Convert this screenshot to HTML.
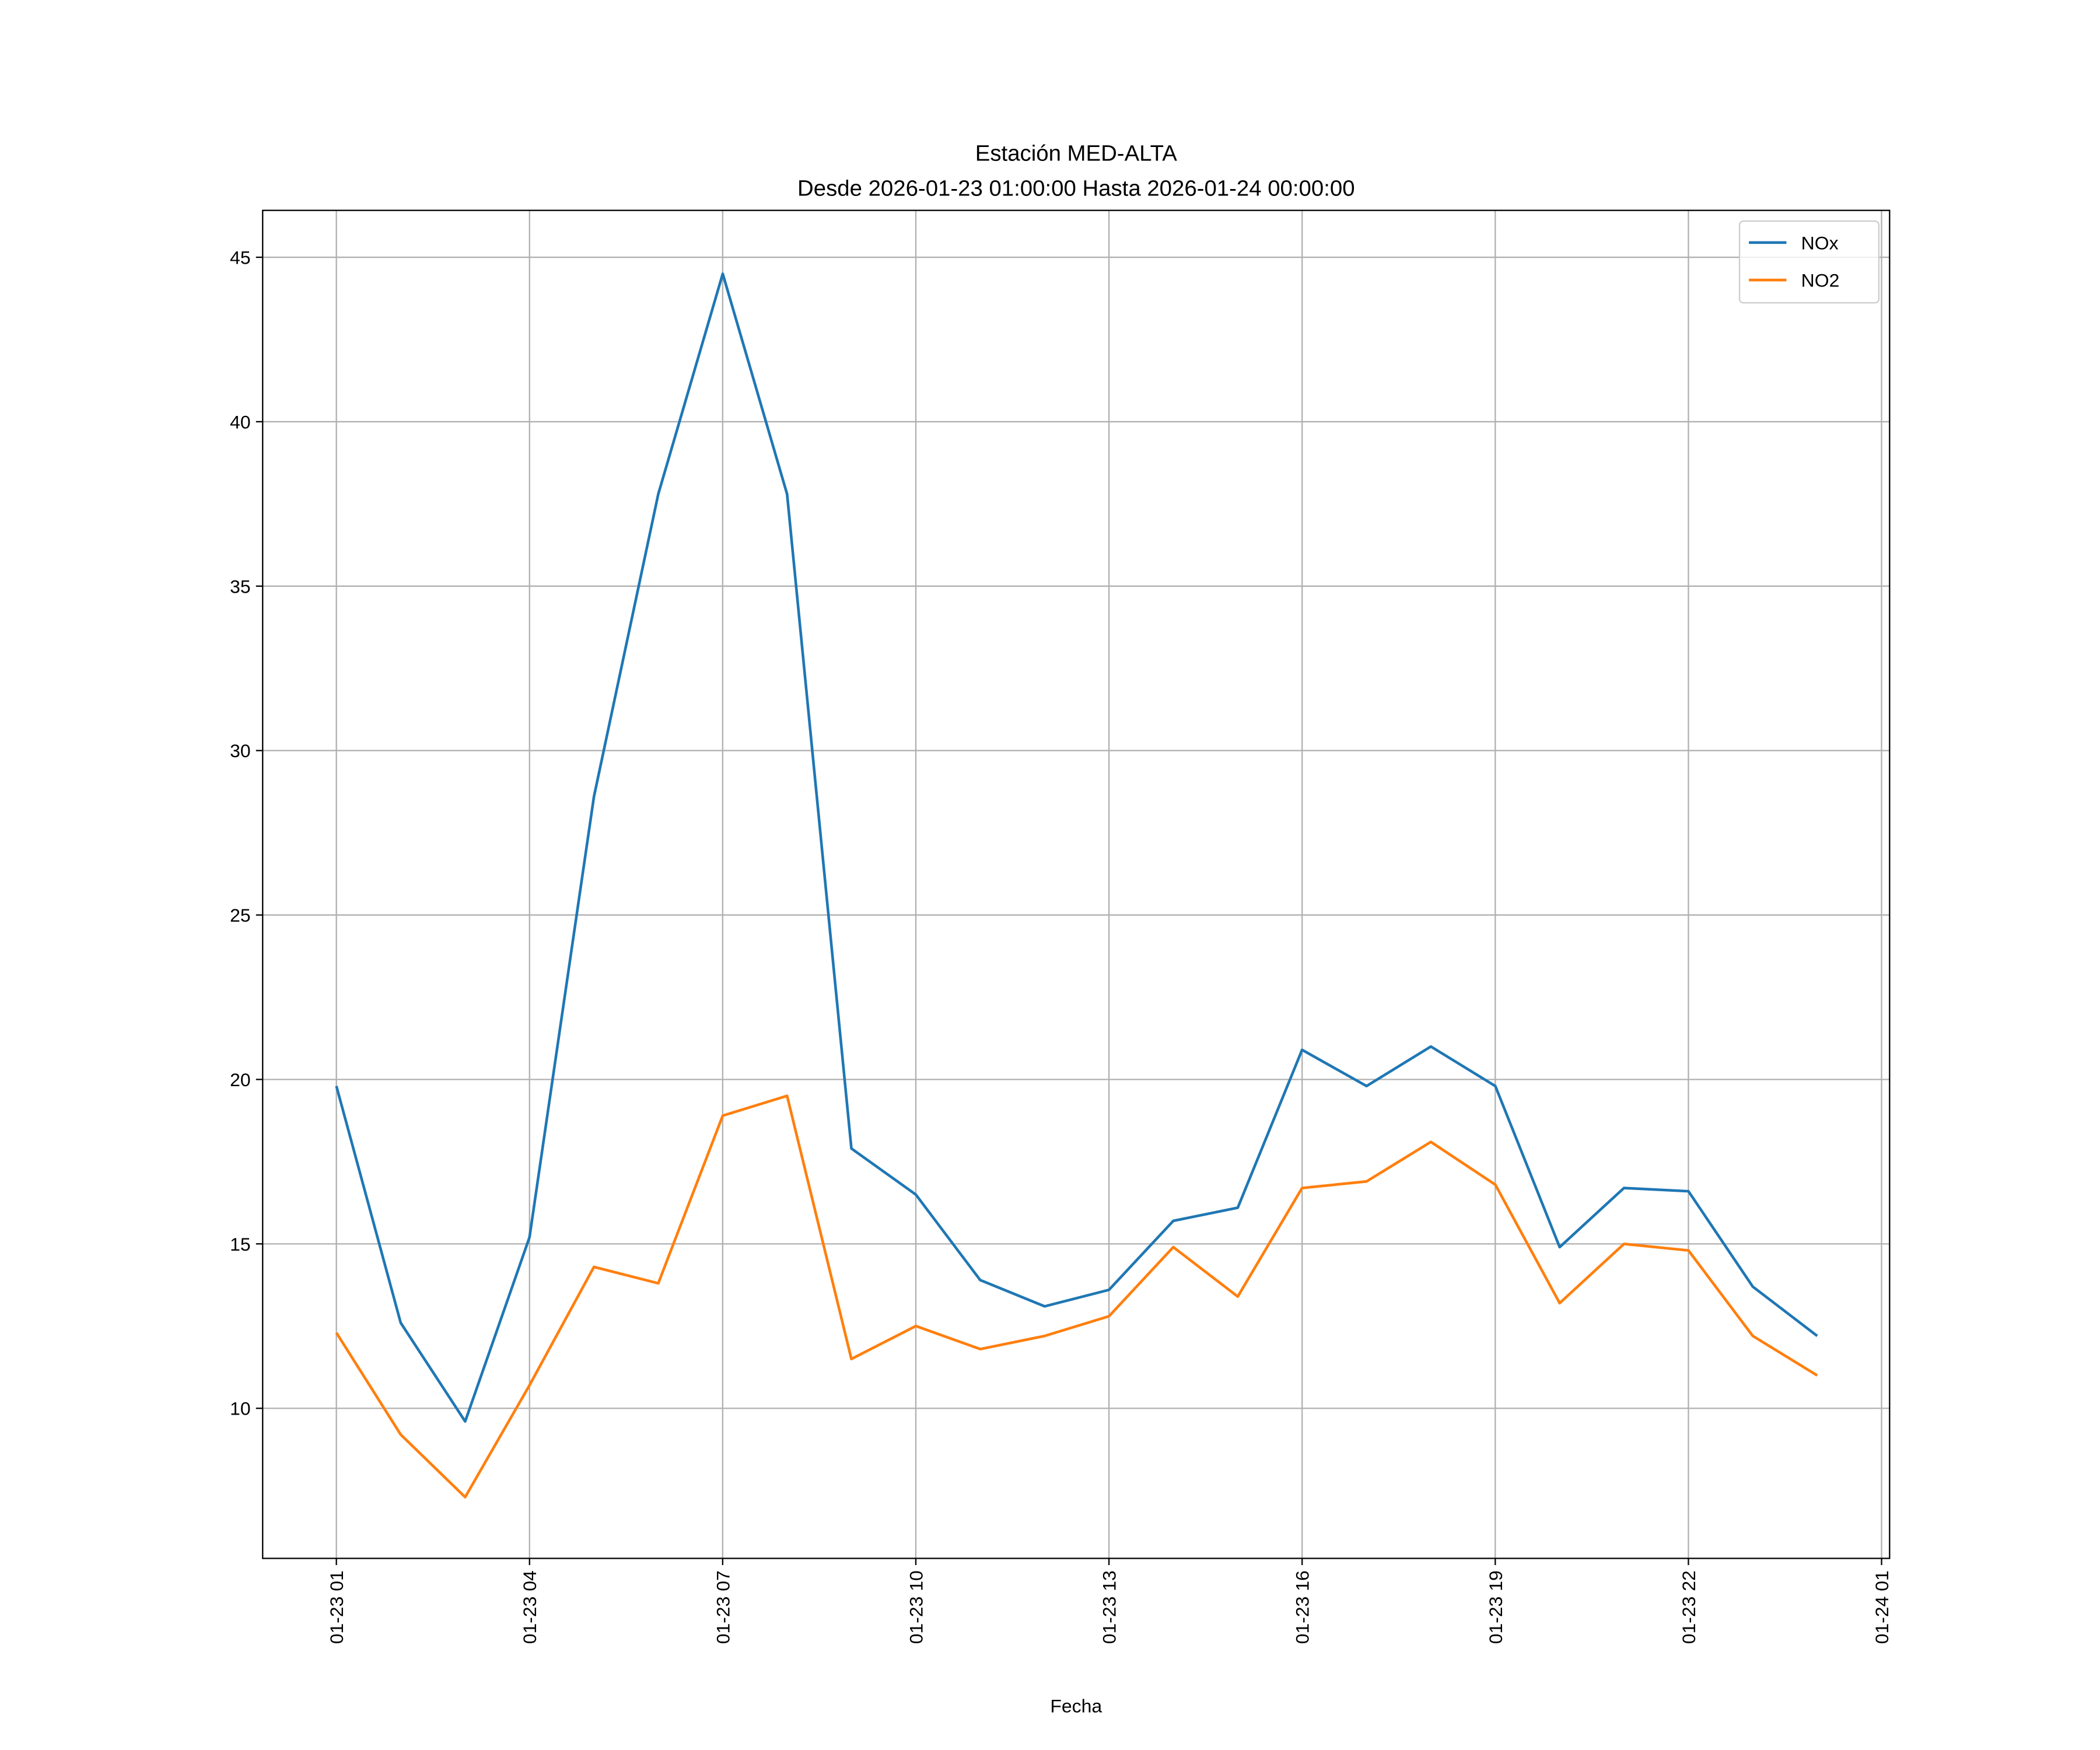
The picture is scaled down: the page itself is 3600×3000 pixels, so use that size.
<!DOCTYPE html>
<html><head><meta charset="utf-8"><style>
html,body{margin:0;padding:0;background:#fff;}
svg{display:block;font-family:"Liberation Sans","DejaVu Sans",sans-serif;}
</style></head><body>
<svg id="chart" width="3600" height="3000" viewBox="0 0 1567 1306" preserveAspectRatio="none" xmlns="http://www.w3.org/2000/svg">
<rect x="0" y="0" width="1567" height="1306" fill="#fff"/>
<text x="803" y="120" text-anchor="middle" font-size="16.7">Estación MED-ALTA</text>
<text x="803" y="146" text-anchor="middle" font-size="16.7">Desde 2026-01-23 01:00:00 Hasta 2026-01-24 00:00:00</text>
<g id="grid"></g>
<g id="series"></g>
<rect x="196" y="157" width="1214" height="1006" fill="none" stroke="#000" stroke-width="1"/>
<g id="ticks"></g>
<text x="803" y="1278" text-anchor="middle" font-size="13.9">Fecha</text>
<g>
<rect x="1298" y="165" width="104" height="61" fill="#fff" fill-opacity="0.8" stroke="#ccc" rx="3"/>
<line x1="1305" y1="181" x2="1333" y2="181" stroke="#1f77b4" stroke-width="2"/>
<text x="1344" y="186" font-size="13.9">NOx</text>
<line x1="1305" y1="209" x2="1333" y2="209" stroke="#ff7f0e" stroke-width="2"/>
<text x="1344" y="214" font-size="13.9">NO2</text>
</g>
</svg>
<script>
const hours = [1,2,3,4,5,6,7,8,9,10,11,12,13,14,15,16,17,18,19,20,21,22,23,24];
const noxValues = [19.8,12.6,9.6,15.2,28.6,37.8,44.5,37.8,17.9,16.5,13.9,13.1,13.6,15.7,16.1,20.9,19.8,21.0,19.8,14.9,16.7,16.6,13.7,12.2];
const no2Values = [12.3,9.2,7.3,10.7,14.3,13.8,18.9,19.5,11.5,12.5,11.8,12.2,12.8,14.9,13.4,16.7,16.9,18.1,16.8,13.2,15.0,14.8,12.2,11.0];
const yTicks = [10,15,20,25,30,35,40,45];
const xTickHours = [1,4,7,10,13,16,19,22,25];
const xTickLabels = ["01-23 01","01-23 04","01-23 07","01-23 10","01-23 13","01-23 16","01-23 19","01-23 22","01-24 01"];

const NS = "http://www.w3.org/2000/svg";
const L=196,R=1410,T=157,B=1163;
function xScale(h){return 251 + (h-1)*(1404-251)/24;}
function yScale(v){return 1051 - (v-10)*(1051-192)/35;}
function mk(tag, attrs, parent){const e=document.createElementNS(NS,tag);for(const k in attrs)e.setAttribute(k,attrs[k]);parent.appendChild(e);return e;}
const grid=document.getElementById('grid'), ticks=document.getElementById('ticks'), series=document.getElementById('series');

yTicks.forEach(v=>{
  const y=yScale(v);
  const g=mk('line',{x1:L,x2:R,y1:y,y2:y,stroke:'#b0b0b0','stroke-width':1},grid);
  
  
  const t=mk('line',{x1:L-5,x2:L,y1:y,y2:y,stroke:'#000'},ticks);
  
  
  const lb=mk('text',{x:L-9,y:y+5,'text-anchor':'end','font-size':13.9},ticks);
  lb.textContent=v;
  
  
});
xTickHours.forEach((h,i)=>{
  const x=xScale(h);
  const g=mk('line',{x1:x,x2:x,y1:T,y2:B,stroke:'#b0b0b0','stroke-width':1},grid);
  
  
  const t=mk('line',{x1:x,x2:x,y1:B,y2:B+5,stroke:'#000'},ticks);
  
  
  const lb=mk('text',{x:0,y:0,'text-anchor':'end','font-size':13.9,transform:`translate(${x+5},${B+9}) rotate(-90)`},ticks);
  lb.textContent=xTickLabels[i];
  
  
});
function drawLine(vals,color,name){
  const pts=vals.map((v,i)=>xScale(hours[i]).toFixed(1)+','+yScale(v).toFixed(1)).join(' ');
  const p=mk('polyline',{points:pts,fill:'none',stroke:color,'stroke-width':2,'stroke-linejoin':'round'},series);
  
  
}
drawLine(noxValues,'#1f77b4','nox-line');
drawLine(no2Values,'#ff7f0e','no2-line');
</script>
</body></html>
